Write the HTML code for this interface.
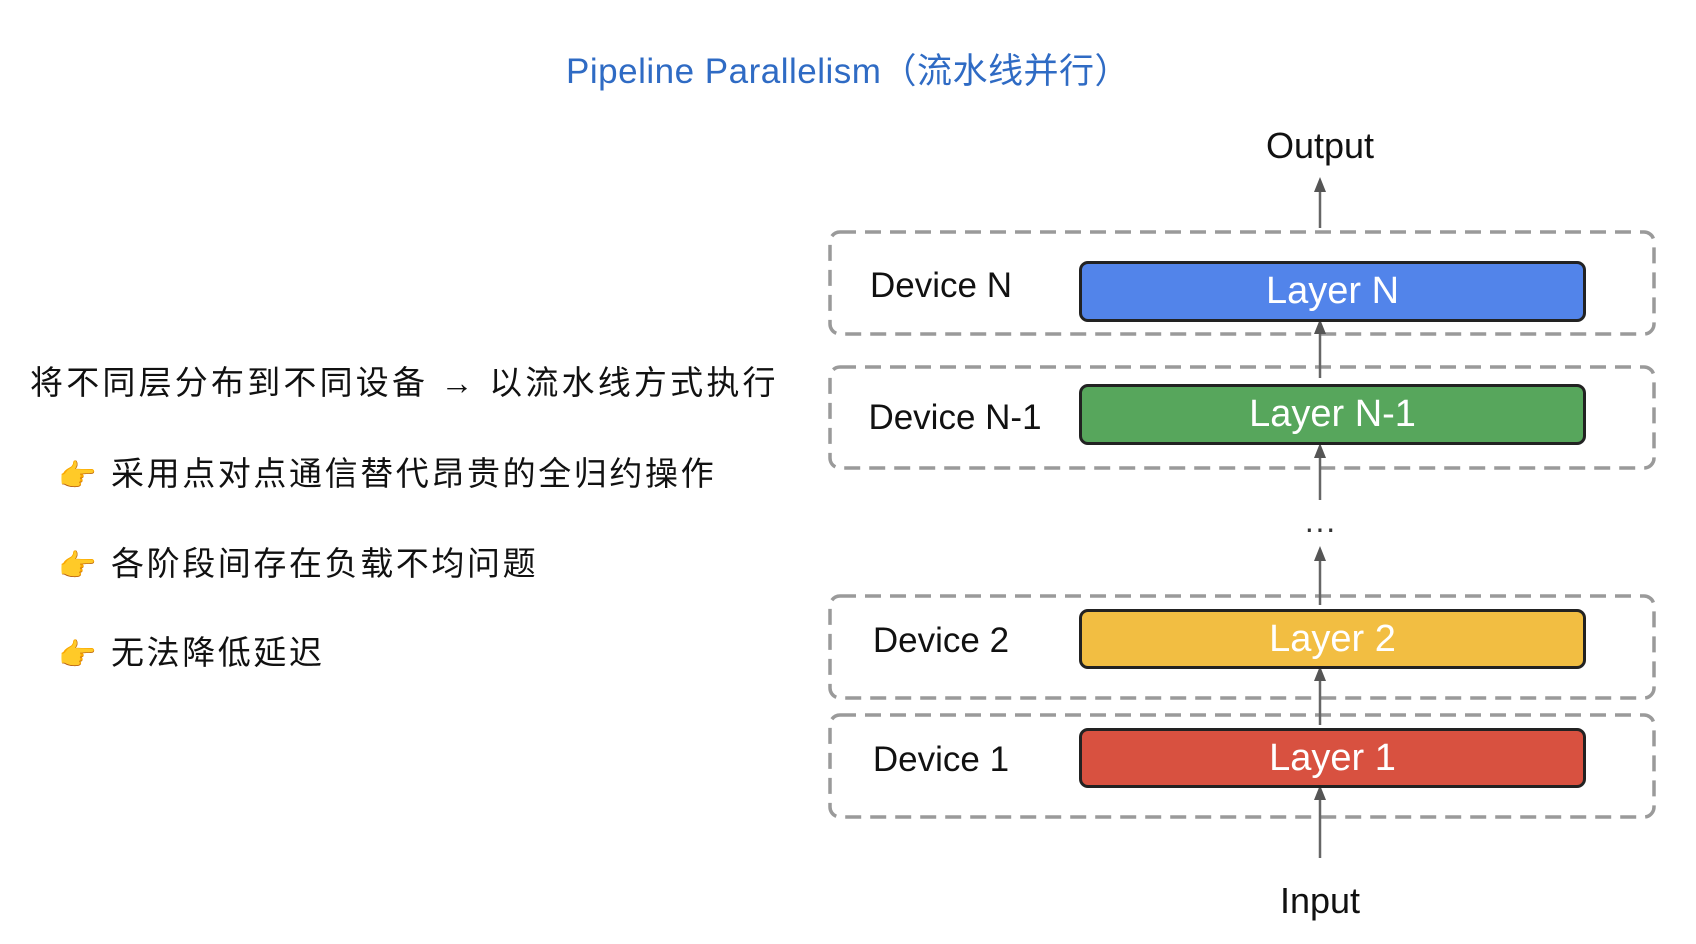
<!DOCTYPE html>
<html><head><meta charset="utf-8"><style>
body{margin:0;width:1696px;height:944px;background:#fff;position:relative;overflow:hidden;font-family:"Liberation Sans","Noto Sans CJK SC",sans-serif}
.t{position:absolute;white-space:nowrap}
.cn{font-family:"Liberation Sans","WenQuanYi Zen Hei","Noto Sans CJK SC",sans-serif;font-size:33px;letter-spacing:2.6px;color:#111}
.lay{position:absolute;left:1079px;width:507px;border:3px solid #222;border-radius:9px;box-sizing:border-box;color:#fff;font-size:38px;text-align:center}
.dl{position:absolute;font-size:35px;color:#111;text-align:center;width:200px;left:841px}
.em{position:absolute;left:58px;font-size:31px;color:#f0b400}
</style></head><body>
<div class="t" style="left:0;width:1696px;text-align:center;top:43px;font-size:35px;letter-spacing:0.5px;color:#2f6bc4;font-family:'Liberation Sans','Noto Sans CJK SC',sans-serif">Pipeline Parallelism（流水线并行）</div>
<div class="t cn" style="left:30px;top:356px;letter-spacing:3.2px">将不同层分布到不同设备 → 以流水线方式执行</div>
<div class="t em" style="top:457px">👉</div>
<div class="t cn" style="left:111px;top:447px">采用点对点通信替代昂贵的全归约操作</div>
<div class="t em" style="top:547px">👉</div>
<div class="t cn" style="left:111px;top:537px">各阶段间存在负载不均问题</div>
<div class="t em" style="top:636px">👉</div>
<div class="t cn" style="left:111px;top:626px">无法降低延迟</div>

<svg width="1696" height="944" style="position:absolute;left:0;top:0">
<g stroke="#9a9a9a" stroke-width="3.5" fill="none" stroke-dasharray="16 9">
<rect x="830" y="232" width="824" height="102" rx="10"/>
<rect x="830" y="367" width="824" height="101" rx="10"/>
<rect x="830" y="596" width="824" height="102" rx="10"/>
<rect x="830" y="715" width="824" height="102" rx="10"/>
</g>
<g stroke="#666" stroke-width="2.5" fill="none">
<line x1="1320" y1="228" x2="1320" y2="188"/>
<line x1="1320" y1="378" x2="1320" y2="330"/>
<line x1="1320" y1="500" x2="1320" y2="454"/>
<line x1="1320" y1="605" x2="1320" y2="557"/>
<line x1="1320" y1="725" x2="1320" y2="677"/>
<line x1="1320" y1="858" x2="1320" y2="796"/>
</g>
<g fill="#555">
<polygon points="1314,192 1320,177 1326,192"/>
<polygon points="1314,334 1320,319 1326,334"/>
<polygon points="1314,458 1320,443 1326,458"/>
<polygon points="1314,561 1320,546 1326,561"/>
<polygon points="1314,681 1320,666 1326,681"/>
<polygon points="1314,800 1320,785 1326,800"/>
</g></svg>

<div class="lay" style="top:261px;height:61px;line-height:55px;background:#5284ea">Layer N</div>
<div class="lay" style="top:384px;height:61px;line-height:55px;background:#57a65c">Layer N-1</div>
<div class="lay" style="top:609px;height:60px;line-height:54px;background:#f2be42">Layer 2</div>
<div class="lay" style="top:728px;height:60px;line-height:54px;background:#d85140">Layer 1</div>

<div class="dl" style="top:266px">Device N</div>
<div class="dl" style="top:398px;left:855px">Device N-1</div>
<div class="dl" style="top:621px">Device 2</div>
<div class="dl" style="top:740px">Device 1</div>

<div class="t" style="left:1220px;width:200px;text-align:center;top:125px;font-size:36px;color:#111">Output</div>
<div class="t" style="left:1220px;width:200px;text-align:center;top:518px;font-size:32px;color:#333;line-height:20px">···</div>
<div class="t" style="left:1220px;width:200px;text-align:center;top:880px;font-size:36px;color:#111">Input</div>
</body></html>
